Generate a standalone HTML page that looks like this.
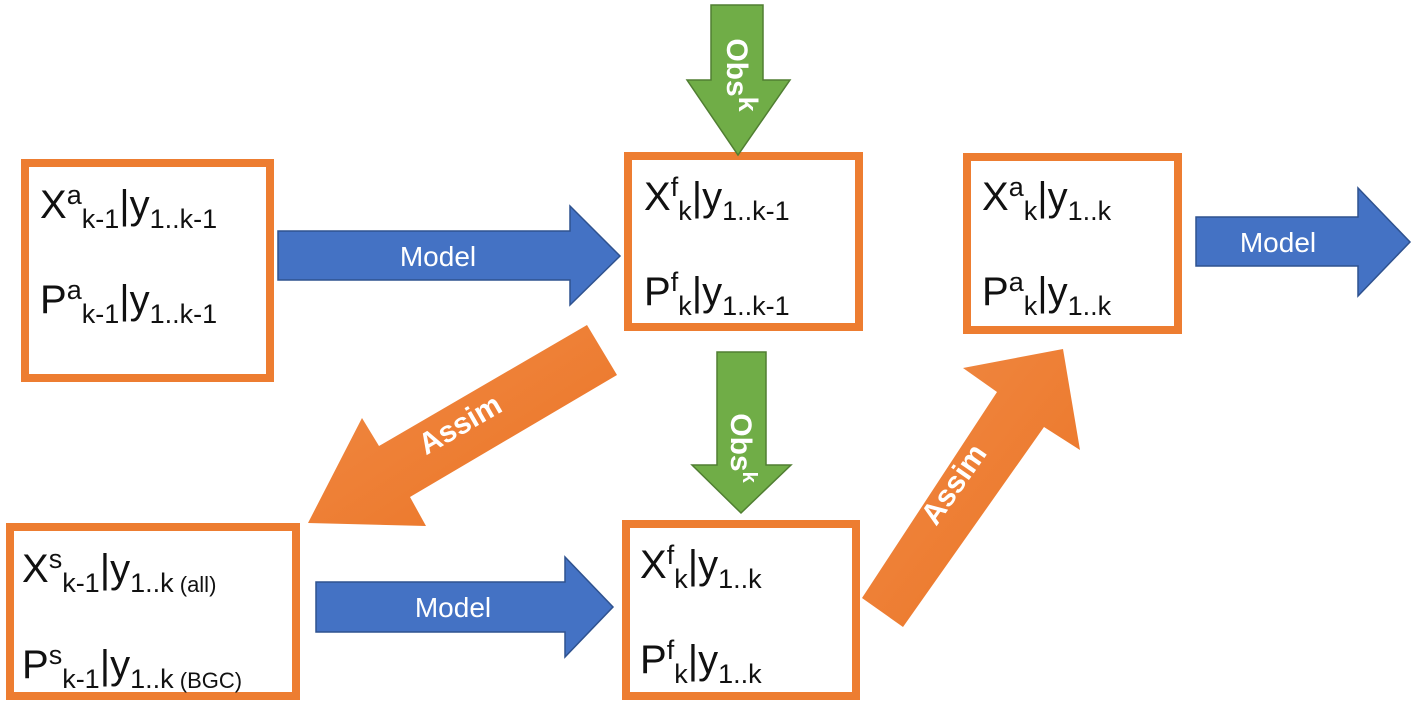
<!DOCTYPE html>
<html><head><meta charset="utf-8"><style>
html,body{margin:0;padding:0;background:#fff;}
svg{display:block;font-family:"Liberation Sans",sans-serif;}
.b{fill:#fff;stroke:#ED7D31;stroke-width:8;}
.t{font-size:40px;fill:#111;}
.s{font-size:27px;}
.l{fill:#fff;font-size:28px;}
.w{fill:#fff;font-size:30px;font-weight:bold;}
</style></head><body>
<svg width="1417" height="712" viewBox="0 0 1417 712">
<defs>
<linearGradient id="og" x1="0" y1="0" x2="1" y2="1"><stop offset="0" stop-color="#F08A45"/><stop offset="1" stop-color="#EB7425"/></linearGradient>
</defs>
<!-- boxes -->
<rect class="b" x="25" y="163" width="245" height="215"/>
<rect class="b" x="628" y="156" width="231" height="171"/>
<rect class="b" x="967" y="157" width="211" height="173"/>
<rect class="b" x="10" y="527" width="286" height="169"/>
<rect class="b" x="626" y="524" width="230" height="172"/>
<!-- blue arrows -->
<polygon points="278,231 570,231 570,206 620,256 570,305 570,280 278,280" fill="#4472C4" stroke="#2F528F" stroke-width="1.5"/>
<text class="l" x="438" y="266" text-anchor="middle">Model</text>
<polygon points="316,582 565,582 565,557 613,607 565,657 565,632 316,632" fill="#4472C4" stroke="#2F528F" stroke-width="1.5"/>
<text class="l" x="453" y="617" text-anchor="middle">Model</text>
<polygon points="1196,217 1358,217 1358,188 1410,242 1358,296 1358,266 1196,266" fill="#4472C4" stroke="#2F528F" stroke-width="1.5"/>
<text class="l" x="1278" y="252" text-anchor="middle">Model</text>
<!-- green arrows -->
<polygon points="711,5 763,5 763,80 790,80 738,155 687,80 711,80" fill="#70AD47" stroke="#507E32" stroke-width="1.5"/>
<text class="w" transform="translate(727,75) rotate(90)" text-anchor="middle">Obs<tspan class="s" dy="-12" font-size="20">k</tspan></text>
<polygon points="717,352 766,352 766,465 791,465 741,513 692,465 717,465" fill="#70AD47" stroke="#507E32" stroke-width="1.5"/>
<text class="w" transform="translate(731,448) rotate(90)" text-anchor="middle">Obs<tspan dy="-12" font-size="20">k</tspan></text>
<!-- orange assim arrows -->
<polygon points="587,325 617,375 410,497 426,526 308,523 362,418 379,446" fill="url(#og)"/>
<text class="w" transform="translate(465,433) rotate(-30)" text-anchor="middle">Assim</text>
<polygon points="1063,349 1080,450 1044,427 903,627 862,598 997,392 963,368" fill="url(#og)"/>
<text class="w" transform="translate(962,490) rotate(-55)" text-anchor="middle">Assim</text>
<!-- box texts -->
<text class="t" x="40" y="218">X<tspan class="s" dy="-14">a</tspan><tspan class="s" dy="24">k-1</tspan><tspan dy="-10">|y</tspan><tspan class="s" dy="10">1..k-1</tspan></text>
<text class="t" x="40" y="313">P<tspan class="s" dy="-14">a</tspan><tspan class="s" dy="24">k-1</tspan><tspan dy="-10">|y</tspan><tspan class="s" dy="10">1..k-1</tspan></text>
<text class="t" x="644" y="210">X<tspan class="s" dy="-14">f</tspan><tspan class="s" dy="24">k</tspan><tspan dy="-10">|y</tspan><tspan class="s" dy="10">1..k-1</tspan></text>
<text class="t" x="644" y="305">P<tspan class="s" dy="-14">f</tspan><tspan class="s" dy="24">k</tspan><tspan dy="-10">|y</tspan><tspan class="s" dy="10">1..k-1</tspan></text>
<text class="t" x="982" y="210">X<tspan class="s" dy="-14">a</tspan><tspan class="s" dy="24">k</tspan><tspan dy="-10">|y</tspan><tspan class="s" dy="10">1..k</tspan></text>
<text class="t" x="982" y="305">P<tspan class="s" dy="-14">a</tspan><tspan class="s" dy="24">k</tspan><tspan dy="-10">|y</tspan><tspan class="s" dy="10">1..k</tspan></text>
<text class="t" x="22" y="582">X<tspan class="s" dy="-14">s</tspan><tspan class="s" dy="24">k-1</tspan><tspan dy="-10">|y</tspan><tspan class="s" dy="10">1..k</tspan><tspan font-size="22"> (all)</tspan></text>
<text class="t" x="22" y="678">P<tspan class="s" dy="-14">s</tspan><tspan class="s" dy="24">k-1</tspan><tspan dy="-10">|y</tspan><tspan class="s" dy="10">1..k</tspan><tspan font-size="22"> (BGC)</tspan></text>
<text class="t" x="640" y="578">X<tspan class="s" dy="-14">f</tspan><tspan class="s" dy="24">k</tspan><tspan dy="-10">|y</tspan><tspan class="s" dy="10">1..k</tspan></text>
<text class="t" x="640" y="673">P<tspan class="s" dy="-14">f</tspan><tspan class="s" dy="24">k</tspan><tspan dy="-10">|y</tspan><tspan class="s" dy="10">1..k</tspan></text>
</svg>
</body></html>
